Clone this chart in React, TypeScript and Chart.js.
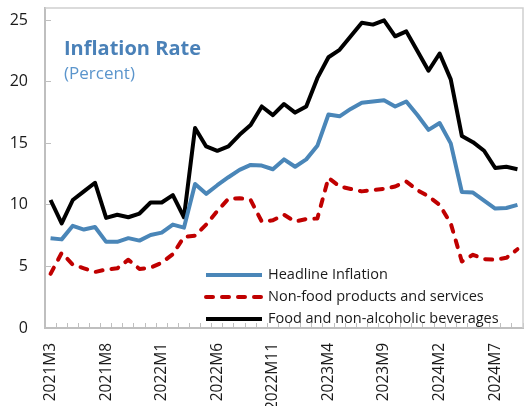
import React, { useEffect, useRef } from 'react';
import { Chart, registerables } from 'chart.js';

Chart.register(...registerables);

const categories = [
  '2021M3', '2021M4', '2021M5', '2021M6', '2021M7', '2021M8', '2021M9', '2021M10', '2021M11', '2021M12',
  '2022M1', '2022M2', '2022M3', '2022M4', '2022M5', '2022M6', '2022M7', '2022M8', '2022M9', '2022M10',
  '2022M11', '2022M12', '2023M1', '2023M2', '2023M3', '2023M4', '2023M5', '2023M6', '2023M7', '2023M8',
  '2023M9', '2023M10', '2023M11', '2023M12', '2024M1', '2024M2', '2024M3', '2024M4', '2024M5', '2024M6',
  '2024M7', '2024M8', '2024M9',
];

const headline = [
  7.3, 7.2, 8.3, 8.0, 8.2, 7.0, 7.0, 7.3, 7.1, 7.55,
  7.75, 8.4, 8.15, 11.7, 10.9, 11.6, 12.25, 12.85, 13.25, 13.2,
  12.9, 13.7, 13.1, 13.7, 14.8, 17.35, 17.2, 17.8, 18.3, 18.4,
  18.5, 18.0, 18.4, 17.3, 16.1, 16.65, 15.0, 11.05, 11.0, 10.35,
  9.7, 9.75, 10.0,
];

const nonFood = [
  4.4, 6.1, 5.15, 4.85, 4.55, 4.75, 4.85, 5.55, 4.8, 4.9,
  5.3, 6.0, 7.4, 7.5, 8.4, 9.5, 10.5, 10.55, 10.4, 8.65,
  8.75, 9.2, 8.65, 8.85, 8.9, 12.2, 11.5, 11.3, 11.1, 11.2,
  11.3, 11.5, 11.9, 11.2, 10.7, 10.0, 8.5, 5.4, 5.95, 5.6,
  5.55, 5.7, 6.4,
];

const food = [
  10.4, 8.5, 10.4, 11.1, 11.8, 8.95, 9.2, 9.0, 9.3, 10.2,
  10.2, 10.8, 9.0, 16.25, 14.75, 14.4, 14.75, 15.7, 16.5, 18.0,
  17.3, 18.2, 17.5, 18.0, 20.3, 22.0, 22.6, 23.7, 24.8, 24.65,
  25.0, 23.7, 24.1, 22.5, 20.9, 22.3, 20.2, 15.6, 15.1, 14.4,
  13.0, 13.1, 12.9,
];

const seriesNames = [
  'Headline Inflation',
  'Non-food products and services',
  'Food and non-alcoholic beverages',
];
const yTickValues = [0, 5, 10, 15, 20, 25];
const yMax = 26;
const labelEvery = 5;
const titleText = 'Inflation Rate';
const subtitleText = '(Percent)';

const FONT = "'Open Sans', 'Noto Sans', sans-serif";

export default function App() {
  const ref = useRef<HTMLCanvasElement>(null);

  useEffect(() => {
    if (!ref.current) return;

    const framePlugin = {
      id: 'frame',
      beforeDatasetsDraw(chart: any) {
        const { ctx, chartArea: a } = chart;
        ctx.save();
        ctx.strokeStyle = '#d0d0d0';
        ctx.lineWidth = 1.5;
        ctx.beginPath();
        ctx.moveTo(a.left, a.top);
        ctx.lineTo(a.right, a.top);
        ctx.lineTo(a.right, a.bottom);
        ctx.stroke();
        ctx.restore();
      },
    };

    const overlayPlugin = {
      id: 'overlay',
      afterDraw(chart: any) {
        const { ctx, chartArea: a } = chart;
        ctx.save();
        ctx.textAlign = 'left';
        ctx.textBaseline = 'alphabetic';
        ctx.fillStyle = '#4a81b8';
        ctx.font = `bold 20px ${FONT}`;
        ctx.fillText(titleText, a.left + 19, a.top + 46.5);
        ctx.fillStyle = '#5b95cc';
        ctx.font = `17px ${FONT}`;
        ctx.fillText(subtitleText, a.left + 19, a.top + 71);

        const rows = [a.bottom - 53, a.bottom - 31, a.bottom - 9];
        const x0 = a.left + 161;
        const x1 = a.left + 217;
        chart.data.datasets.forEach((ds: any, i: number) => {
          const y = rows[i];
          ctx.beginPath();
          ctx.strokeStyle = ds.borderColor;
          ctx.lineWidth = ds.borderWidth;
          ctx.lineCap = ds.borderCapStyle || 'butt';
          ctx.setLineDash(ds.borderDash || []);
          ctx.moveTo(x0, y);
          ctx.lineTo(x1, y);
          ctx.stroke();
          ctx.setLineDash([]);
          ctx.fillStyle = '#1a1a1a';
          ctx.font = `14.5px ${FONT}`;
          ctx.textBaseline = 'middle';
          ctx.fillText(ds.label, x1 + 6, y);
        });
        ctx.restore();
      },
    };

    const chart = new Chart(ref.current, {
      type: 'line',
      data: {
        labels: categories,
        datasets: [
          {
            label: seriesNames[0],
            data: headline,
            borderColor: '#4a86b8',
            borderWidth: 4,
            pointRadius: 0,
            tension: 0,
            borderJoinStyle: 'round',
            borderCapStyle: 'butt',
          },
          {
            label: seriesNames[1],
            data: nonFood,
            borderColor: '#c00000',
            borderWidth: 4,
            borderDash: [7, 9],
            borderCapStyle: 'round',
            pointRadius: 0,
            tension: 0,
            borderJoinStyle: 'round',
          },
          {
            label: seriesNames[2],
            data: food,
            borderColor: '#000000',
            borderWidth: 4,
            pointRadius: 0,
            tension: 0,
            borderJoinStyle: 'round',
            borderCapStyle: 'butt',
          },
        ],
      },
      options: {
        animation: false,
        responsive: true,
        maintainAspectRatio: false,
        layout: { padding: { top: 8, right: 2, left: 0, bottom: 0 } },
        plugins: {
          legend: { display: false },
          tooltip: { enabled: false },
          title: { display: false },
        },
        scales: {
          x: {
            type: 'category',
            offset: true,
            grid: {
              display: true,
              drawOnChartArea: false,
              drawTicks: true,
              tickLength: -5,
              color: '#bfbfbf',
              lineWidth: 1,
              offset: true,
            },
            border: { display: true, color: '#bfbfbf', width: 2 },
            ticks: {
              autoSkip: false,
              maxRotation: 90,
              minRotation: 90,
              padding: 20,
              color: '#1a1a1a',
              font: { family: FONT, size: 15.5 },
              callback: (_v: any, i: number) => (i % labelEvery === 0 ? categories[i] : ''),
            },
            afterFit: (scale: any) => {
              scale.height = 78;
              scale.paddingLeft = 0;
              scale.paddingRight = 0;
            },
          },
          y: {
            min: yTickValues[0],
            max: yMax,
            grid: {
              display: true,
              drawOnChartArea: false,
              drawTicks: true,
              tickLength: -6,
              color: '#bfbfbf',
            },
            border: { display: true, color: '#bfbfbf', width: 2 },
            ticks: {
              stepSize: 5,
              padding: 23,
              color: '#1a1a1a',
              font: { family: FONT, size: 16 },
            },
            afterBuildTicks: (scale: any) => {
              scale.ticks = yTickValues.map((v) => ({ value: v }));
            },
            afterFit: (scale: any) => {
              scale.width = 45;
              scale.paddingTop = 0;
              scale.paddingBottom = 0;
            },
          },
        },
      },
      plugins: [framePlugin, overlayPlugin],
    });

    return () => chart.destroy();
  }, []);

  return (
    <div style={{ position: 'fixed', left: 0, top: 0, width: 525, height: 406 }}>
      <canvas ref={ref} />
    </div>
  );
}
